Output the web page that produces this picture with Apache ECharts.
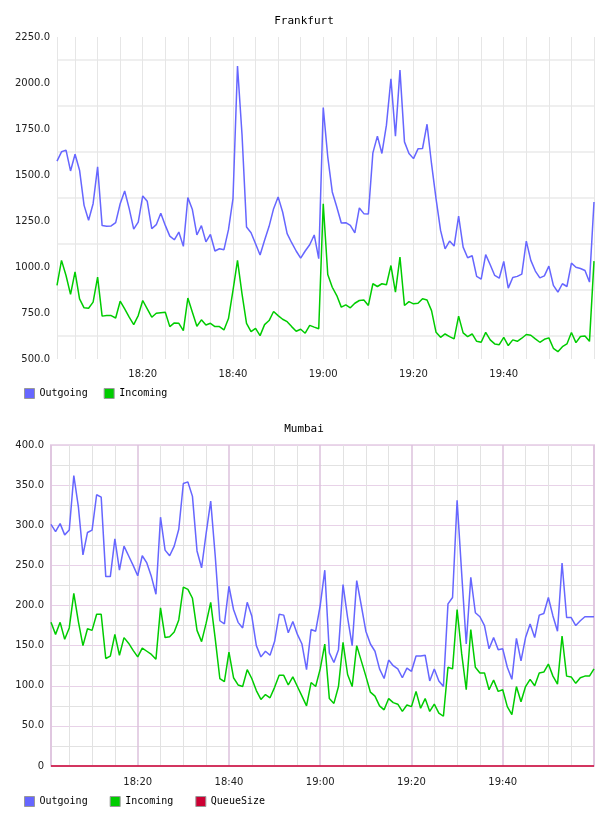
<!DOCTYPE html>
<html>
<head>
<meta charset="utf-8">
<script src="https://cdn.jsdelivr.net/npm/echarts@6/dist/echarts.min.js"></script>
<style>
  html, body { margin: 0; padding: 0; background: #fff; }
  #chart { width: 608px; height: 816px; }
</style>
</head>
<body>
<div id="chart"></div>
<script>
// one sample per minute, 18:01 .. 20:00 (minutes of the day)
const startMinute = 18 * 60 + 1;
const times = Array.from({ length: 120 }, (_, i) => startMinute + i);
const xLabels = ['18:20', '18:40', '19:00', '19:20', '19:40'];

const fraOutgoing = [
  1575, 1626, 1635, 1522, 1613, 1526, 1335, 1254, 1344, 1544,
  1225, 1221, 1223, 1241, 1344, 1413, 1317, 1206, 1244, 1386,
  1357, 1208, 1230, 1292, 1226, 1168, 1148, 1190, 1112, 1377,
  1312, 1174, 1225, 1137, 1177, 1087, 1099, 1094, 1203, 1372,
  2092, 1720, 1217, 1186, 1126, 1065, 1145, 1221, 1317, 1381,
  1299, 1181, 1132, 1087, 1048, 1087, 1121, 1174, 1045, 1867,
  1599, 1408, 1326, 1239, 1241, 1226, 1185, 1321, 1290, 1288,
  1620, 1711, 1617, 1771, 2023, 1711, 2070, 1680, 1617, 1589,
  1642, 1644, 1776, 1560, 1370, 1199, 1099, 1141, 1114, 1277,
  1108, 1050, 1061, 949, 934, 1067, 1012, 954, 939, 1030,
  885, 943, 949, 961, 1141, 1036, 978, 941, 952, 1005,
  900, 863, 909, 894, 1021, 999, 992, 981, 918, 1353
];
const fraIncoming = [
  900, 1036, 954, 851, 974, 827, 778, 776, 809, 945,
  733, 736, 736, 723, 814, 772, 727, 687, 736, 818,
  772, 727, 749, 752, 754, 676, 696, 694, 654, 831,
  754, 678, 713, 685, 694, 676, 676, 658, 720, 873,
  1036, 854, 694, 649, 667, 627, 687, 709, 758, 736,
  716, 703, 676, 651, 662, 640, 683, 673, 664, 1344,
  959, 890, 845, 782, 794, 778, 803, 818, 821, 791,
  909, 894, 909, 903, 1008, 863, 1054, 791, 812, 800,
  803, 827, 821, 763, 645, 618, 636, 622, 609, 733,
  642, 622, 636, 596, 591, 645, 604, 582, 578, 618,
  573, 604, 596, 613, 633, 629, 609, 591, 607, 615,
  558, 540, 567, 582, 644, 589, 622, 625, 596, 1032
];

const mumOutgoing = [
  301, 292, 302, 288, 294, 362, 323, 263, 291, 294,
  338, 335, 236, 236, 283, 244, 274, 262, 250, 237,
  262, 253, 236, 214, 310, 269, 262, 274, 295, 352,
  354, 336, 268, 247, 290, 330, 261, 181, 177, 224,
  195, 179, 172, 204, 187, 150, 136, 143, 138, 155,
  189, 188, 166, 180, 164, 152, 120, 170, 168, 200,
  244, 141, 129, 145, 226, 185, 150, 231, 200, 168,
  152, 143, 121, 109, 132, 125, 121, 110, 122, 118,
  137, 137, 138, 106, 121, 106, 99, 202, 210, 331,
  240, 152, 235, 191, 186, 175, 146, 160, 145, 146,
  123, 108, 159, 131, 160, 177, 160, 188, 190, 210,
  187, 168, 253, 185, 185, 175, 181, 186, 186, 186
];
const mumIncoming = [
  179, 164, 179, 158, 172, 215, 180, 150, 171, 169,
  189, 189, 134, 137, 164, 138, 160, 153, 144, 136,
  147, 143, 139, 133, 197, 160, 161, 167, 182, 223,
  220, 209, 169, 155, 178, 204, 158, 109, 105, 142,
  110, 101, 99, 120, 109, 94, 83, 89, 85, 98,
  113, 113, 101, 111, 99, 87, 75, 104, 99, 121,
  152, 84, 78, 99, 154, 114, 99, 150, 131, 112,
  92, 87, 75, 70, 84, 79, 77, 68, 76, 74,
  93, 72, 84, 68, 77, 66, 62, 123, 121, 195,
  140, 95, 170, 123, 116, 116, 95, 107, 93, 95,
  74, 64, 99, 80, 99, 108, 100, 116, 117, 127,
  112, 102, 162, 112, 111, 103, 110, 112, 112, 121
];
const mumQueueSize = [
  0, 0, 0, 0, 0, 0, 0, 0, 0, 0, 0, 0, 0, 0, 0, 0, 0, 0, 0, 0,
  0, 0, 0, 0, 0, 0, 0, 0, 0, 0, 0, 0, 0, 0, 0, 0, 0, 0, 0, 0,
  0, 0, 0, 0, 0, 0, 0, 0, 0, 0, 0, 0, 0, 0, 0, 0, 0, 0, 0, 0,
  0, 0, 0, 0, 0, 0, 0, 0, 0, 0, 0, 0, 0, 0, 0, 0, 0, 0, 0, 0,
  0, 0, 0, 0, 0, 0, 0, 0, 0, 0, 0, 0, 0, 0, 0, 0, 0, 0, 0, 0,
  0, 0, 0, 0, 0, 0, 0, 0, 0, 0, 0, 0, 0, 0, 0, 0, 0, 0, 0, 0
];

const BLUE = '#6666ff';
const GREEN = '#00cc00';
const RED = '#cc0033';
const mono = "'DejaVu Sans Mono', monospace";
const sans = "'DejaVu Sans', sans-serif";

const pad = (n) => String(n).padStart(2, '0');
const fmtTime = (v) => pad(Math.floor(v / 60)) + ':' + pad(Math.round(v % 60));
const pairs = (ys) => times.map((t, i) => [t, ys[i]]);

const xAxisFor = (gridIndex, majorColor, majorWidth, minorColor, margin) => ({
  type: 'value',
  gridIndex,
  min: times[0],
  max: times[times.length - 1],
  splitNumber: 6,
  axisLine: { show: false },
  axisTick: { show: false },
  axisLabel: {
    margin,
    fontFamily: sans,
    fontSize: 10,
    color: '#222',
    formatter: (v) => (Number.isInteger(v) && xLabels.includes(fmtTime(v)) ? fmtTime(v) : ''),
  },
  splitLine: { show: true, lineStyle: { color: majorColor, width: majorWidth } },
  minorTick: { show: false, splitNumber: 4 },
  minorSplitLine: { show: true, lineStyle: { color: minorColor, width: 1 } },
});

const line = (name, data, color, xi) => ({
  name,
  type: 'line',
  xAxisIndex: xi,
  yAxisIndex: xi,
  data: pairs(data),
  showSymbol: false,
  clip: false,
  lineStyle: { color, width: 1.5 },
  itemStyle: { color },
});

const legendFor = (top, itemGap, data) => ({
  top,
  left: 24,
  padding: 0,
  itemGap,
  itemWidth: 10,
  itemHeight: 10,
  icon: 'rect',
  itemStyle: { borderColor: '#999', borderWidth: 1 },
  textStyle: { fontFamily: mono, fontSize: 10, color: '#000' },
  selectedMode: false,
  data,
});

const myChart = echarts.init(document.getElementById('chart'));
myChart.setOption({
  animation: false,
  backgroundColor: '#fff',
  title: [
    { text: 'Frankfurt', left: 'center', top: 16, padding: 0,
      textStyle: { fontFamily: mono, fontSize: 11, fontWeight: 'normal', color: '#000' } },
    { text: 'Mumbai', left: 'center', top: 424, padding: 0,
      textStyle: { fontFamily: mono, fontSize: 11, fontWeight: 'normal', color: '#000' } },
  ],
  legend: [
    legendFor(388, 16, ['Outgoing', 'Incoming']),
    legendFor(796, 22, ['Outgoing', 'Incoming', 'QueueSize']),
  ],
  grid: [
    { left: 57, right: 14, top: 37, height: 322, show: false },
    { left: 51, right: 14, top: 445, height: 321, show: true,
      borderColor: '#ead8ea', borderWidth: 2, backgroundColor: '#fff' },
  ],
  xAxis: [
    xAxisFor(0, '#e6e6e6', 1, '#e6e6e6', 10),
    xAxisFor(1, '#dcc2dc', 1.5, '#e2e2e2', 11),
  ],
  yAxis: [
    {
      type: 'value', gridIndex: 0, min: 500, max: 2250, interval: 250,
      axisLine: { show: false }, axisTick: { show: false },
      axisLabel: { margin: 7, fontFamily: sans, fontSize: 10, color: '#222',
        formatter: (v) => v.toFixed(1) },
      splitLine: { show: false },
      minorTick: { show: false, splitNumber: 2 },
      minorSplitLine: { show: true, lineStyle: { color: '#efefef', width: 2 } },
    },
    {
      type: 'value', gridIndex: 1, min: 0, max: 400, interval: 50,
      axisLine: { show: false }, axisTick: { show: false },
      axisLabel: { margin: 7, fontFamily: sans, fontSize: 10, color: '#222',
        formatter: (v) => (v === 0 ? '0' : v.toFixed(1)) },
      splitLine: { show: true, lineStyle: { color: '#e8d2e8', width: 1 } },
      minorTick: { show: false, splitNumber: 2 },
      minorSplitLine: { show: true, lineStyle: { color: '#e2e2e2', width: 1 } },
    },
  ],
  series: [
    line('Outgoing', fraOutgoing, BLUE, 0),
    line('Incoming', fraIncoming, GREEN, 0),
    line('Outgoing', mumOutgoing, BLUE, 1),
    line('Incoming', mumIncoming, GREEN, 1),
    line('QueueSize', mumQueueSize, RED, 1),
  ],
});
</script>
</body>
</html>
